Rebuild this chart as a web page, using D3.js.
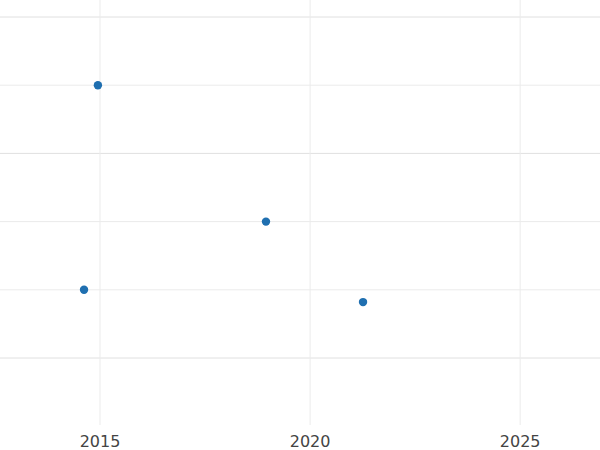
<!DOCTYPE html>
<html><head><meta charset="utf-8">
<script src="https://cdn.jsdelivr.net/npm/d3@7"></script>
<style>body{margin:0;background:#fff}</style>
</head><body>
<svg id="c" width="600" height="450"></svg>
<script>
const years = [2014.95, 2018.95, 2014.62, 2021.26];
const values = [4, 2, 1, 0.82];
const xTicks = [2015, 2020, 2025];
const yGrid = [0, 1, 2, 3, 4, 5];
const yMajor = [0, 3, 5];

const svg = d3.select("#c");
const x = d3.scaleLinear().domain([2012.62, 2026.9]).range([0, 600]);
const y = d3.scaleLinear().domain([0, 5]).range([358, 17]);

svg.append("g").selectAll("line").data(yGrid).join("line")
  .attr("x1", 0).attr("x2", 600)
  .attr("y1", d => y(d)).attr("y2", d => y(d))
  .attr("stroke", d => yMajor.includes(d) ? "#e0e0e0" : "#ebebeb").attr("stroke-width", 1);
svg.append("g").selectAll("line").data(xTicks).join("line")
  .attr("x1", d => x(d)).attr("x2", d => x(d))
  .attr("y1", 0).attr("y2", 425)
  .attr("stroke", "#ebebeb").attr("stroke-width", 1);

svg.append("g").selectAll("text").data(xTicks).join("text")
  .attr("x", d => x(d)).attr("y", 447)
  .attr("text-anchor", "middle")
  .attr("font-family", "DejaVu Sans").attr("font-size", 16).attr("fill", "#444")
  .text(d => d);

svg.append("g").selectAll("circle").data(years).join("circle")
  .attr("cx", d => x(d)).attr("cy", (d, i) => y(values[i]))
  .attr("r", 4.2).attr("fill", "#1f6fb0");
</script>
</body></html>
